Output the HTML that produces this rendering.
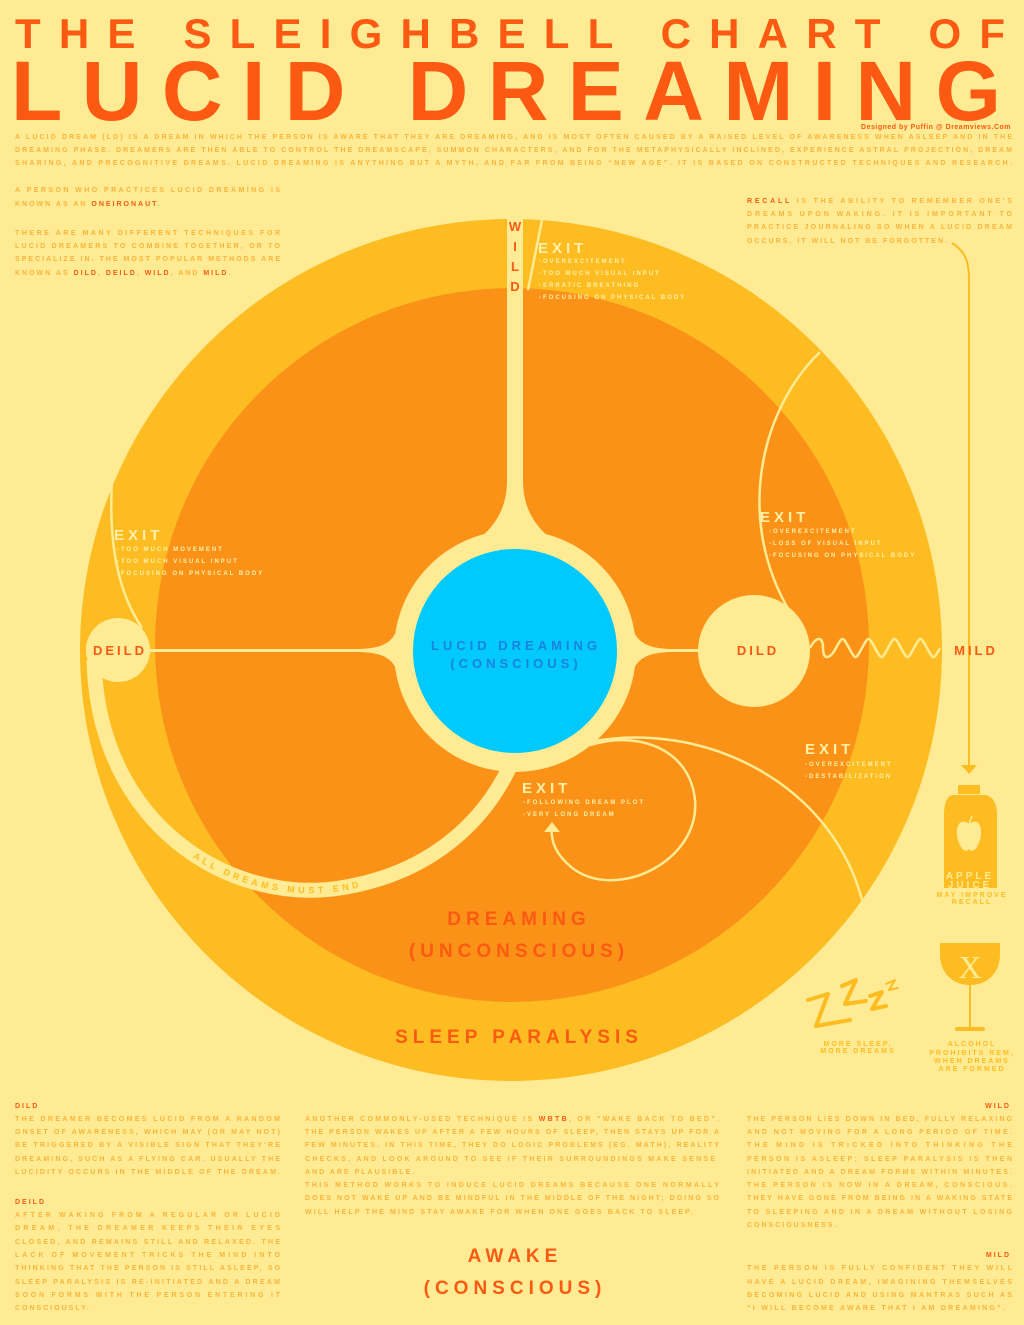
<!DOCTYPE html>
<html><head><meta charset="utf-8"><style>
html,body{margin:0;padding:0;background:#feeb93;}
svg{display:block;font-family:"Liberation Sans",sans-serif;}
.b{font-size:7px;fill:#f9b43a;font-weight:bold;}
.r{fill:#fc5a12;}
.ex{fill:#fff0a8;font-weight:bold;font-size:15px;letter-spacing:4px;}
.ei{fill:#fff0a8;font-weight:bold;font-size:6px;letter-spacing:2px;}
</style></head><body>
<svg width="1024" height="1325" viewBox="0 0 1024 1325" xmlns="http://www.w3.org/2000/svg">
<rect width="1024" height="1325" fill="#feeb93"/>
<text x="15" y="48" font-size="42" font-weight="bold" fill="#fc5a12" textLength="990" lengthAdjust="spacing">THE SLEIGHBELL CHART OF</text>
<text x="11" y="120" font-size="84" font-weight="bold" fill="#fc5a12" textLength="990" lengthAdjust="spacing">LUCID DREAMING</text>
<text x="1011" y="129" font-size="7" font-weight="bold" fill="#fc5a12" text-anchor="end" letter-spacing="0.5">Designed by Puffin @ Dreamviews.Com</text>
<g class="b">
<text x="15" y="139" textLength="997" lengthAdjust="spacing">A LUCID DREAM (LD) IS A DREAM IN WHICH THE PERSON IS AWARE THAT THEY ARE DREAMING, AND IS MOST OFTEN CAUSED BY A RAISED LEVEL OF AWARENESS WHEN ASLEEP AND IN THE</text>
<text x="15" y="152" textLength="997" lengthAdjust="spacing">DREAMING PHASE. DREAMERS ARE THEN ABLE TO CONTROL THE DREAMSCAPE, SUMMON CHARACTERS, AND FOR THE METAPHYSICALLY INCLINED, EXPERIENCE ASTRAL PROJECTION, DREAM</text>
<text x="15" y="165" textLength="997" lengthAdjust="spacing">SHARING, AND PRECOGNITIVE DREAMS. LUCID DREAMING IS ANYTHING BUT A MYTH, AND FAR FROM BEING “NEW AGE”. IT IS BASED ON CONSTRUCTED TECHNIQUES AND RESEARCH.</text>
<text x="15" y="192" textLength="265" lengthAdjust="spacing">A PERSON WHO PRACTICES LUCID DREAMING IS</text>
<text x="15" y="206" letter-spacing="2">KNOWN AS AN <tspan class="r">ONEIRONAUT</tspan>.</text>
<text x="15" y="235" textLength="265" lengthAdjust="spacing">THERE ARE MANY DIFFERENT TECHNIQUES FOR</text>
<text x="15" y="248" textLength="265" lengthAdjust="spacing">LUCID DREAMERS TO COMBINE TOGETHER, OR TO</text>
<text x="15" y="261" textLength="265" lengthAdjust="spacing">SPECIALIZE IN. THE MOST POPULAR METHODS ARE</text>
<text x="15" y="275" letter-spacing="2">KNOWN AS <tspan class="r">DILD</tspan>, <tspan class="r">DEILD</tspan>, <tspan class="r">WILD</tspan>, AND <tspan class="r">MILD</tspan>.</text>
<text x="747" y="203" textLength="265" lengthAdjust="spacing"><tspan class="r">RECALL</tspan> IS THE ABILITY TO REMEMBER ONE'S</text>
<text x="747" y="216" textLength="265" lengthAdjust="spacing">DREAMS UPON WAKING. IT IS IMPORTANT TO</text>
<text x="747" y="229" textLength="265" lengthAdjust="spacing">PRACTICE JOURNALING SO WHEN A LUCID DREAM</text>
<text x="747" y="243" textLength="200" lengthAdjust="spacing">OCCURS, IT WILL NOT BE FORGOTTEN.</text>
</g>
<path d="M952 243 C966 252,969 262,969 280 L969 765" stroke="#fdbd22" stroke-width="2" fill="none"/>
<polygon points="961,765 977,765 969,774" fill="#fdbd22"/>
<circle cx="511" cy="650" r="431" fill="#fdbd22"/>
<circle cx="512" cy="645" r="357" fill="#fb9218"/>
<rect x="507" y="210" width="16" height="300" fill="#feeb93"/>
<path d="M507 480 C507 530,470 545,440 565 L590 565 C560 545,523 530,523 480 Z" fill="#feeb93"/>
<circle cx="515" cy="651" r="121" fill="#feeb93"/>
<path d="M400 620 C395 645,380 648,360 649 L360 652 C380 653,395 656,400 680 Z" fill="#feeb93"/>
<path d="M630 620 C635 645,650 648,670 649 L670 652 C650 653,635 656,630 680 Z" fill="#feeb93"/>
<line x1="140" y1="650.5" x2="400" y2="650.5" stroke="#feeb93" stroke-width="3"/>
<line x1="630" y1="650.5" x2="710" y2="650.5" stroke="#feeb93" stroke-width="3"/>
<circle cx="515" cy="651" r="102" fill="#00c9fe"/>
<text x="516" y="650" font-size="13" font-weight="bold" fill="#1a83e0" text-anchor="middle" letter-spacing="4">LUCID DREAMING</text>
<text x="516" y="668" font-size="13" font-weight="bold" fill="#1a83e0" text-anchor="middle" letter-spacing="4">(CONSCIOUS)</text>
<g font-size="13" font-weight="bold" fill="#fc5a12" text-anchor="middle">
<text x="515" y="231">W</text><text x="515" y="251">I</text><text x="515" y="271">L</text><text x="515" y="291">D</text>
</g>
<line x1="542" y1="220" x2="528" y2="290" stroke="#feeb93" stroke-width="2.5"/>
<path d="M112 478 C108 550,120 595,142 628" stroke="#feeb93" stroke-width="2.5" fill="none"/>
<path id="band" d="M94 660 C98 825,230 905,340 888 C430 874,485 822,512 762" stroke="#feeb93" stroke-width="15" fill="none"/>
<text font-size="9" font-weight="bold" fill="#fdbd22" letter-spacing="3.5" dy="3"><textPath href="#band" startOffset="228">ALL DREAMS MUST END</textPath></text>
<circle cx="118" cy="650" r="32" fill="#feeb93"/>
<text x="120" y="655" font-size="13" font-weight="bold" fill="#fc5a12" text-anchor="middle" letter-spacing="3">DEILD</text>
<path d="M820 352 C760 410,735 520,790 612" stroke="#feeb93" stroke-width="2.5" fill="none"/>
<circle cx="754" cy="651" r="56" fill="#feeb93"/>
<text x="758" y="655" font-size="13" font-weight="bold" fill="#fc5a12" text-anchor="middle" letter-spacing="3">DILD</text>
<path d="M810 648 c6.5 -12 13 -12 13 0 s6.5 12 13 0 s6.5 -12 13 0 s6.5 12 13 0 s6.5 -12 13 0 s6.5 12 13 0 s6.5 -12 13 0 s6.5 12 13 0 s6.5 -12 13 0 s6.5 12 13 0" stroke="#feeb93" stroke-width="2.5" fill="none"/>
<text x="976" y="655" font-size="13" font-weight="bold" fill="#fc5a12" text-anchor="middle" letter-spacing="3">MILD</text>
<path d="M590 742 C700 720,830 780,862 900" stroke="#feeb93" stroke-width="2.5" fill="none"/>
<path d="M590 745 C640 730,690 750,695 800 C700 860,620 900,575 870 C555 855,550 840,552 825" stroke="#feeb93" stroke-width="2.5" fill="none"/>
<polygon points="544,832 560,832 552,822" fill="#feeb93"/>
<text class="ex" x="538" y="253">EXIT</text>
<g class="ei"><text x="539" y="263">-OVEREXCITEMENT</text><text x="539" y="275">-TOO MUCH VISUAL INPUT</text><text x="539" y="287">-ERRATIC BREATHING</text><text x="539" y="299">-FOCUSING ON PHYSICAL BODY</text></g>
<text class="ex" x="114" y="540">EXIT</text>
<g class="ei"><text x="117" y="551">-TOO MUCH MOVEMENT</text><text x="117" y="563">-TOO MUCH VISUAL INPUT</text><text x="117" y="575">-FOCUSING ON PHYSICAL BODY</text></g>
<text class="ex" x="760" y="522">EXIT</text>
<g class="ei"><text x="769" y="533">-OVEREXCITEMENT</text><text x="769" y="545">-LOSS OF VISUAL INPUT</text><text x="769" y="557">-FOCUSING ON PHYSICAL BODY</text></g>
<text class="ex" x="805" y="754">EXIT</text>
<g class="ei"><text x="805" y="766">-OVEREXCITEMENT</text><text x="805" y="778">-DESTABILIZATION</text></g>
<text class="ex" x="522" y="793">EXIT</text>
<g class="ei"><text x="523" y="804">-FOLLOWING DREAM PLOT</text><text x="523" y="816">-VERY LONG DREAM</text></g>
<g font-size="19" font-weight="bold" fill="#fc5a12" text-anchor="middle" letter-spacing="5">
<text x="519" y="925">DREAMING</text>
<text x="519" y="957">(UNCONSCIOUS)</text>
<text x="519" y="1043">SLEEP PARALYSIS</text>
<text x="515" y="1262">AWAKE</text>
<text x="515" y="1294">(CONSCIOUS)</text>
</g>
<rect x="958" y="785" width="22" height="9" fill="#fdbd22"/>
<path d="M952 795 L986 795 C994 797,997 805,997 815 L997 888 L944 888 L944 815 C944 805,946 797,952 795 Z" fill="#fdbd22"/>
<path d="M969 824 C958 816,955 830,958 840 C961 850,966 853,969 849 C972 853,977 850,980 840 C983 830,980 816,969 824 Z" fill="#feeb93"/>
<path d="M969 824 L972 816" stroke="#feeb93" stroke-width="1.5"/>
<text x="970" y="879" font-size="10" fill="#feeb93" text-anchor="middle" letter-spacing="3" font-weight="bold">APPLE</text>
<text x="970" y="888" font-size="10" fill="#feeb93" text-anchor="middle" letter-spacing="3" font-weight="bold">JUICE</text>
<g font-size="7" font-weight="bold" fill="#fdbd22" text-anchor="middle" letter-spacing="2">
<text x="858" y="1046">MORE SLEEP,</text><text x="858" y="1053">MORE DREAMS</text>
<text x="972" y="897">MAY IMPROVE</text><text x="972" y="904">RECALL</text>
<text x="972" y="1046">ALCOHOL</text><text x="972" y="1055">PROHIBITS REM,</text><text x="972" y="1063">WHEN DREAMS</text><text x="972" y="1071">ARE FORMED</text>
</g>
<path d="M940 943 L1000 943 L1000 955 C1000 972,988 985,970 985 C952 985,940 972,940 955 Z" fill="#fdbd22"/>
<line x1="970" y1="985" x2="970" y2="1028" stroke="#fdbd22" stroke-width="2"/>
<rect x="955" y="1027" width="30" height="4" rx="2" fill="#fdbd22"/>
<text x="970" y="978" font-size="32" fill="#feeb93" text-anchor="middle" font-family="Liberation Serif,serif">X</text>
<g stroke="#fdbd22" stroke-width="4" fill="none" stroke-linecap="round" stroke-linejoin="round">
<polyline points="808,1000 828,994 816,1026 850,1020"/>
<polyline points="842,986 856,980 845,1004 866,1001"/>
<polyline points="870,996 882,992 872,1009 886,1006"/>
<polyline points="886,984 895,980 889,990 898,988" stroke-width="2"/>
</g>
<g class="b">
<text x="15" y="1108" class="r" letter-spacing="2">DILD</text>
<text x="15" y="1121" textLength="265" lengthAdjust="spacing">THE DREAMER BECOMES LUCID FROM A RANDOM</text>
<text x="15" y="1134" textLength="265" lengthAdjust="spacing">ONSET OF AWARENESS, WHICH MAY (OR MAY NOT)</text>
<text x="15" y="1147" textLength="265" lengthAdjust="spacing">BE TRIGGERED BY A VISIBLE SIGN THAT THEY'RE</text>
<text x="15" y="1161" textLength="265" lengthAdjust="spacing">DREAMING, SUCH AS A FLYING CAR. USUALLY THE</text>
<text x="15" y="1174" textLength="265" lengthAdjust="spacing">LUCIDITY OCCURS IN THE MIDDLE OF THE DREAM.</text>
<text x="15" y="1204" class="r" letter-spacing="2">DEILD</text>
<text x="15" y="1217" textLength="265" lengthAdjust="spacing">AFTER WAKING FROM A REGULAR OR LUCID</text>
<text x="15" y="1230" textLength="265" lengthAdjust="spacing">DREAM, THE DREAMER KEEPS THEIR EYES</text>
<text x="15" y="1244" textLength="265" lengthAdjust="spacing">CLOSED, AND REMAINS STILL AND RELAXED. THE</text>
<text x="15" y="1257" textLength="265" lengthAdjust="spacing">LACK OF MOVEMENT TRICKS THE MIND INTO</text>
<text x="15" y="1270" textLength="265" lengthAdjust="spacing">THINKING THAT THE PERSON IS STILL ASLEEP, SO</text>
<text x="15" y="1284" textLength="265" lengthAdjust="spacing">SLEEP PARALYSIS IS RE-INITIATED AND A DREAM</text>
<text x="15" y="1297" textLength="265" lengthAdjust="spacing">SOON FORMS WITH THE PERSON ENTERING IT</text>
<text x="15" y="1310" letter-spacing="2">CONSCIOUSLY.</text>
<text x="305" y="1121" textLength="414" lengthAdjust="spacing">ANOTHER COMMONLY-USED TECHNIQUE IS <tspan class="r">WBTB</tspan>, OR “WAKE BACK TO BED”.</text>
<text x="305" y="1134" textLength="414" lengthAdjust="spacing">THE PERSON WAKES UP AFTER A FEW HOURS OF SLEEP, THEN STAYS UP FOR A</text>
<text x="305" y="1147" textLength="414" lengthAdjust="spacing">FEW MINUTES. IN THIS TIME, THEY DO LOGIC PROBLEMS (EG. MATH), REALITY</text>
<text x="305" y="1161" textLength="410" lengthAdjust="spacing">CHECKS, AND LOOK AROUND TO SEE IF THEIR SURROUNDINGS MAKE SENSE</text>
<text x="305" y="1174" letter-spacing="2">AND ARE PLAUSIBLE.</text>
<text x="305" y="1187" textLength="414" lengthAdjust="spacing">THIS METHOD WORKS TO INDUCE LUCID DREAMS BECAUSE ONE NORMALLY</text>
<text x="305" y="1200" textLength="414" lengthAdjust="spacing">DOES NOT WAKE UP AND BE MINDFUL IN THE MIDDLE OF THE NIGHT; DOING SO</text>
<text x="305" y="1214" textLength="388" lengthAdjust="spacing">WILL HELP THE MIND STAY AWAKE FOR WHEN ONE GOES BACK TO SLEEP.</text>
<text x="1011" y="1108" class="r" letter-spacing="2" text-anchor="end">WILD</text>
<text x="747" y="1121" textLength="265" lengthAdjust="spacing">THE PERSON LIES DOWN IN BED, FULLY RELAXING</text>
<text x="747" y="1134" textLength="265" lengthAdjust="spacing">AND NOT MOVING FOR A LONG PERIOD OF TIME.</text>
<text x="747" y="1147" textLength="265" lengthAdjust="spacing">THE MIND IS TRICKED INTO THINKING THE</text>
<text x="747" y="1161" textLength="265" lengthAdjust="spacing">PERSON IS ASLEEP; SLEEP PARALYSIS IS THEN</text>
<text x="747" y="1174" textLength="265" lengthAdjust="spacing">INITIATED AND A DREAM FORMS WITHIN MINUTES.</text>
<text x="747" y="1187" textLength="265" lengthAdjust="spacing">THE PERSON IS NOW IN A DREAM, CONSCIOUS.</text>
<text x="747" y="1200" textLength="265" lengthAdjust="spacing">THEY HAVE GONE FROM BEING IN A WAKING STATE</text>
<text x="747" y="1214" textLength="265" lengthAdjust="spacing">TO SLEEPING AND IN A DREAM WITHOUT LOSING</text>
<text x="747" y="1227" letter-spacing="2">CONSCIOUSNESS.</text>
<text x="1011" y="1257" class="r" letter-spacing="2" text-anchor="end">MILD</text>
<text x="747" y="1270" textLength="265" lengthAdjust="spacing">THE PERSON IS FULLY CONFIDENT THEY WILL</text>
<text x="747" y="1284" textLength="265" lengthAdjust="spacing">HAVE A LUCID DREAM, IMAGINING THEMSELVES</text>
<text x="747" y="1297" textLength="265" lengthAdjust="spacing">BECOMING LUCID AND USING MANTRAS SUCH AS</text>
<text x="747" y="1310" textLength="258" lengthAdjust="spacing">“I WILL BECOME AWARE THAT I AM DREAMING”.</text>
</g>
</svg>
</body></html>
